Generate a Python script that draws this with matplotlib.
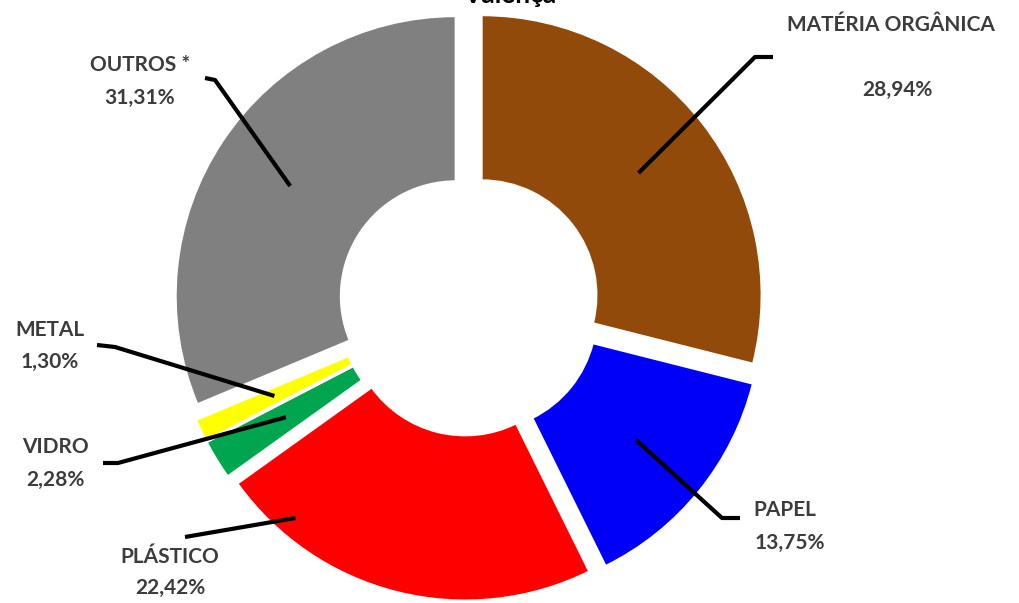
import numpy as np
import matplotlib.pyplot as plt

# dados
categorias = ["MATÉRIA ORGÂNICA", "PAPEL", "PLÁSTICO", "VIDRO", "METAL", "OUTROS *"]
valores = [28.94, 13.75, 22.42, 2.28, 1.30, 31.31]
rotulos_pct = ["28,94%", "13,75%", "22,42%", "2,28%", "1,30%", "31,31%"]
cores = ["#924A0A", "#0000F8", "#FF0000", "#00A54F", "#FFFF00", "#808080"]

W, H = 1019, 603
fig = plt.figure(figsize=(W / 100, H / 100), dpi=100)
ax = fig.add_axes([0, 0, 1, 1])

# tudo em pixels
cx, cy, R = 469, 298, 280
afast = 16  # explode em unidades de dados (px)
wedges, _ = ax.pie(valores, colors=cores, startangle=90, counterclock=False,
                   radius=R, center=(cx, cy), explode=[afast] * len(valores),
                   wedgeprops=dict(width=R * 0.59, edgecolor="white", linewidth=1.5))
# pie() mexe nos limites, por isso depois
ax.set_xlim(0, W)
ax.set_ylim(0, H)
ax.set_aspect("equal")
ax.axis("off")

# (nome, %, cotovelo, fim da linha, posição no setor t, raio relativo)
nome_pos = [(891, 578), (785, 93), (170, 46), (55, 156), (50, 273), (140, 538)]
pct_pos = [(897, 513), (790, 60), (170, 15), (55, 123), (50, 241), (140, 505)]
cotovelo = [(755, 546), (722, 85), (185, 66), (118, 140), (115, 256), (215, 523)]
fim = [(773, 546), (740, 85), (185, 66), (103, 140), (97, 258), (205, 525)]
ancora = [(0.5, 0.71), (0.5, 0.71), (0.17, 0.93), (0.5, 0.71), (0.5, 0.71), (0.5, 0.71)]

txt = dict(color="#3C3C3C", fontweight="bold", fontsize=15, family=["Lato", "DejaVu Sans"],
           ha="center", va="center")

for i, w in enumerate(wedges):
    t, rf = ancora[i]
    ang = np.deg2rad(w.theta1 + t * (w.theta2 - w.theta1))
    wx, wy = w.center
    px = wx + R * rf * np.cos(ang)
    py = wy + R * rf * np.sin(ang)
    ax.plot([px, cotovelo[i][0], fim[i][0]], [py, cotovelo[i][1], fim[i][1]],
            color="black", lw=3, solid_capstyle="butt", zorder=5)
    ax.text(*nome_pos[i], categorias[i], **txt)
    ax.text(*pct_pos[i], rotulos_pct[i], **txt)

ax.text(510, H - 3, "Valença", ha="center", va="baseline", color="black",
        fontweight="bold", fontsize=19, family=["Lato", "DejaVu Sans"])

fig.savefig("out.png", dpi=100)
